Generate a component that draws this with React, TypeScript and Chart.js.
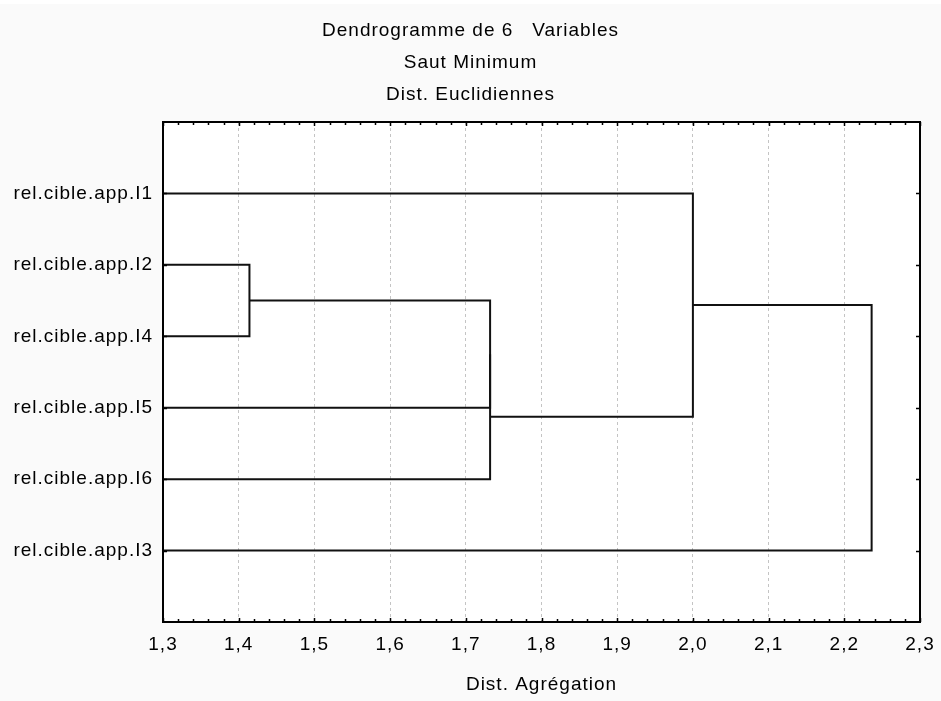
import React, { useEffect, useRef } from 'react';
import { Chart, registerables } from 'chart.js';

Chart.register(...registerables);

// ---- data ----
const leafLabels = [
  'rel.cible.app.I1',
  'rel.cible.app.I2',
  'rel.cible.app.I4',
  'rel.cible.app.I5',
  'rel.cible.app.I6',
  'rel.cible.app.I3',
];
// merges in order; indices 0..5 are leaves, 6+ are clusters created by earlier merges
const mergeLeft = [1, 6, 7, 0, 9];
const mergeRight = [2, 3, 4, 8, 5];
const mergeHeight = [1.4142, 1.7321, 1.7321, 2.0, 2.2361];

const titleLines = ['Dendrogramme de 6   Variables', 'Saut Minimum', 'Dist. Euclidiennes'];
const xAxisTitle = 'Dist. Agrégation';
const xMin = 1.3;
const xMax = 2.3;
const xStep = 0.1;

const FONT = "'Liberation Sans', Arial, Helvetica, sans-serif";
const FS = 19;

function buildLinks() {
  const nodes = leafLabels.map((_, i) => ({ x: xMin, y: i + 1 }));
  return mergeHeight.map((h, k) => {
    const a = nodes[mergeLeft[k]];
    const b = nodes[mergeRight[k]];
    nodes.push({ x: h, y: (a.y + b.y) / 2 });
    return [
      { x: a.x, y: a.y },
      { x: h, y: a.y },
      { x: h, y: b.y },
      { x: b.x, y: b.y },
    ];
  });
}

const framePlugin = {
  id: 'frameTicks',
  beforeDraw(chart: any) {
    const { ctx, chartArea: a, width, height } = chart;
    ctx.save();
    ctx.fillStyle = '#fafafa';
    ctx.fillRect(0, 0, width, height);
    ctx.fillStyle = '#ffffff';
    ctx.fillRect(0, 0, width, 4);
    ctx.fillRect(a.left, a.top, a.right - a.left, a.bottom - a.top);
    ctx.restore();
    ctx.letterSpacing = '1px';
  },
  afterDatasetsDraw(chart: any) {
    const { ctx, chartArea: a, scales } = chart;
    const xs = scales.x;
    const ys = scales.y;
    ctx.save();
    ctx.strokeStyle = '#000';
    ctx.lineWidth = 1.5;
    ctx.beginPath();
    const n = 50;
    for (let i = 0; i <= n; i++) {
      const v = xMin + ((xMax - xMin) * i) / n;
      const px = Math.round(xs.getPixelForValue(v)) + 0.5;
      const len = i % 5 === 0 ? 4 : 3;
      ctx.moveTo(px, a.top);
      ctx.lineTo(px, a.top + len);
      ctx.moveTo(px, a.bottom);
      ctx.lineTo(px, a.bottom - len);
    }
    leafLabels.forEach((_, i) => {
      const py = Math.round(ys.getPixelForValue(i + 1)) + 0.5;
      ctx.moveTo(a.right, py);
      ctx.lineTo(a.right - 4, py);
      ctx.moveTo(a.left, py);
      ctx.lineTo(a.left + 4, py);
    });
    ctx.stroke();
    ctx.lineWidth = 2;
    ctx.strokeRect(a.left, a.top, a.right - a.left, a.bottom - a.top);
    ctx.restore();
  },
};

export default function App() {
  const ref = useRef<HTMLCanvasElement | null>(null);

  useEffect(() => {
    document.body.style.margin = '0';
    document.body.style.overflow = 'hidden';
    document.body.style.background = '#fafafa';
    const canvas = ref.current;
    if (!canvas) return;

    const links = buildLinks();
    const chart = new Chart(canvas, {
      type: 'scatter',
      data: {
        datasets: links.map((pts) => ({
          data: pts,
          showLine: true,
          borderColor: '#111',
          borderWidth: 2,
          pointRadius: 0,
          pointHoverRadius: 0,
          tension: 0,
          borderJoinStyle: 'miter',
          borderCapStyle: 'butt',
        })),
      },
      options: {
        animation: false,
        responsive: false,
        events: [],
        layout: { padding: 0 },
        plugins: {
          legend: { display: false },
          tooltip: { enabled: false },
          title: {
            display: true,
            text: titleLines,
            color: '#000',
            font: { family: FONT, size: FS, weight: 'normal', lineHeight: '32px' },
            padding: { top: 15, bottom: 11 },
          },
        },
        scales: {
          x: {
            type: 'linear',
            min: xMin,
            max: xMax,
            ticks: {
              stepSize: xStep,
              color: '#000',
              padding: 11,
              font: { family: FONT, size: FS },
              callback: (v: any) => Number(v).toFixed(1).replace('.', ','),
              maxRotation: 0,
              autoSkip: false,
            },
            grid: {
              display: true,
              drawOnChartArea: true,
              drawTicks: false,
              color: '#c4c4c4',
              lineWidth: 1,
            },
            border: { display: false, dash: [3, 3] },
            title: {
              display: true,
              text: xAxisTitle,
              color: '#000',
              font: { family: FONT, size: FS },
              padding: { top: 4, bottom: 5 },
            },
            afterFit: (s: any) => {
              s.height = 79;
              s.paddingLeft = 0;
              s.paddingRight = 0;
            },
          },
          y: {
            type: 'linear',
            min: 0,
            max: leafLabels.length + 1,
            reverse: true,
            afterBuildTicks: (s: any) => {
              s.ticks = leafLabels.map((_, i) => ({ value: i + 1 }));
            },
            ticks: {
              color: '#000',
              padding: 10,
              autoSkip: false,
              font: { family: FONT, size: FS },
              callback: (v: any) => leafLabels[Number(v) - 1] ?? '',
            },
            grid: { display: false, drawTicks: false },
            border: { display: false },
            afterFit: (s: any) => {
              s.width = 163;
              s.paddingTop = 0;
              s.paddingBottom = 0;
            },
          },
          yRight: {
            type: 'linear',
            position: 'right',
            display: true,
            min: 0,
            max: 1,
            ticks: { display: false },
            grid: { display: false, drawTicks: false },
            border: { display: false },
            afterFit: (s: any) => {
              s.width = 21;
              s.paddingTop = 0;
              s.paddingBottom = 0;
            },
          },
        },
      },
      plugins: [framePlugin],
    } as any);

    return () => chart.destroy();
  }, []);

  return (
    <canvas
      ref={ref}
      width={941}
      height={701}
      style={{ display: 'block', width: 941, height: 701 }}
    />
  );
}
